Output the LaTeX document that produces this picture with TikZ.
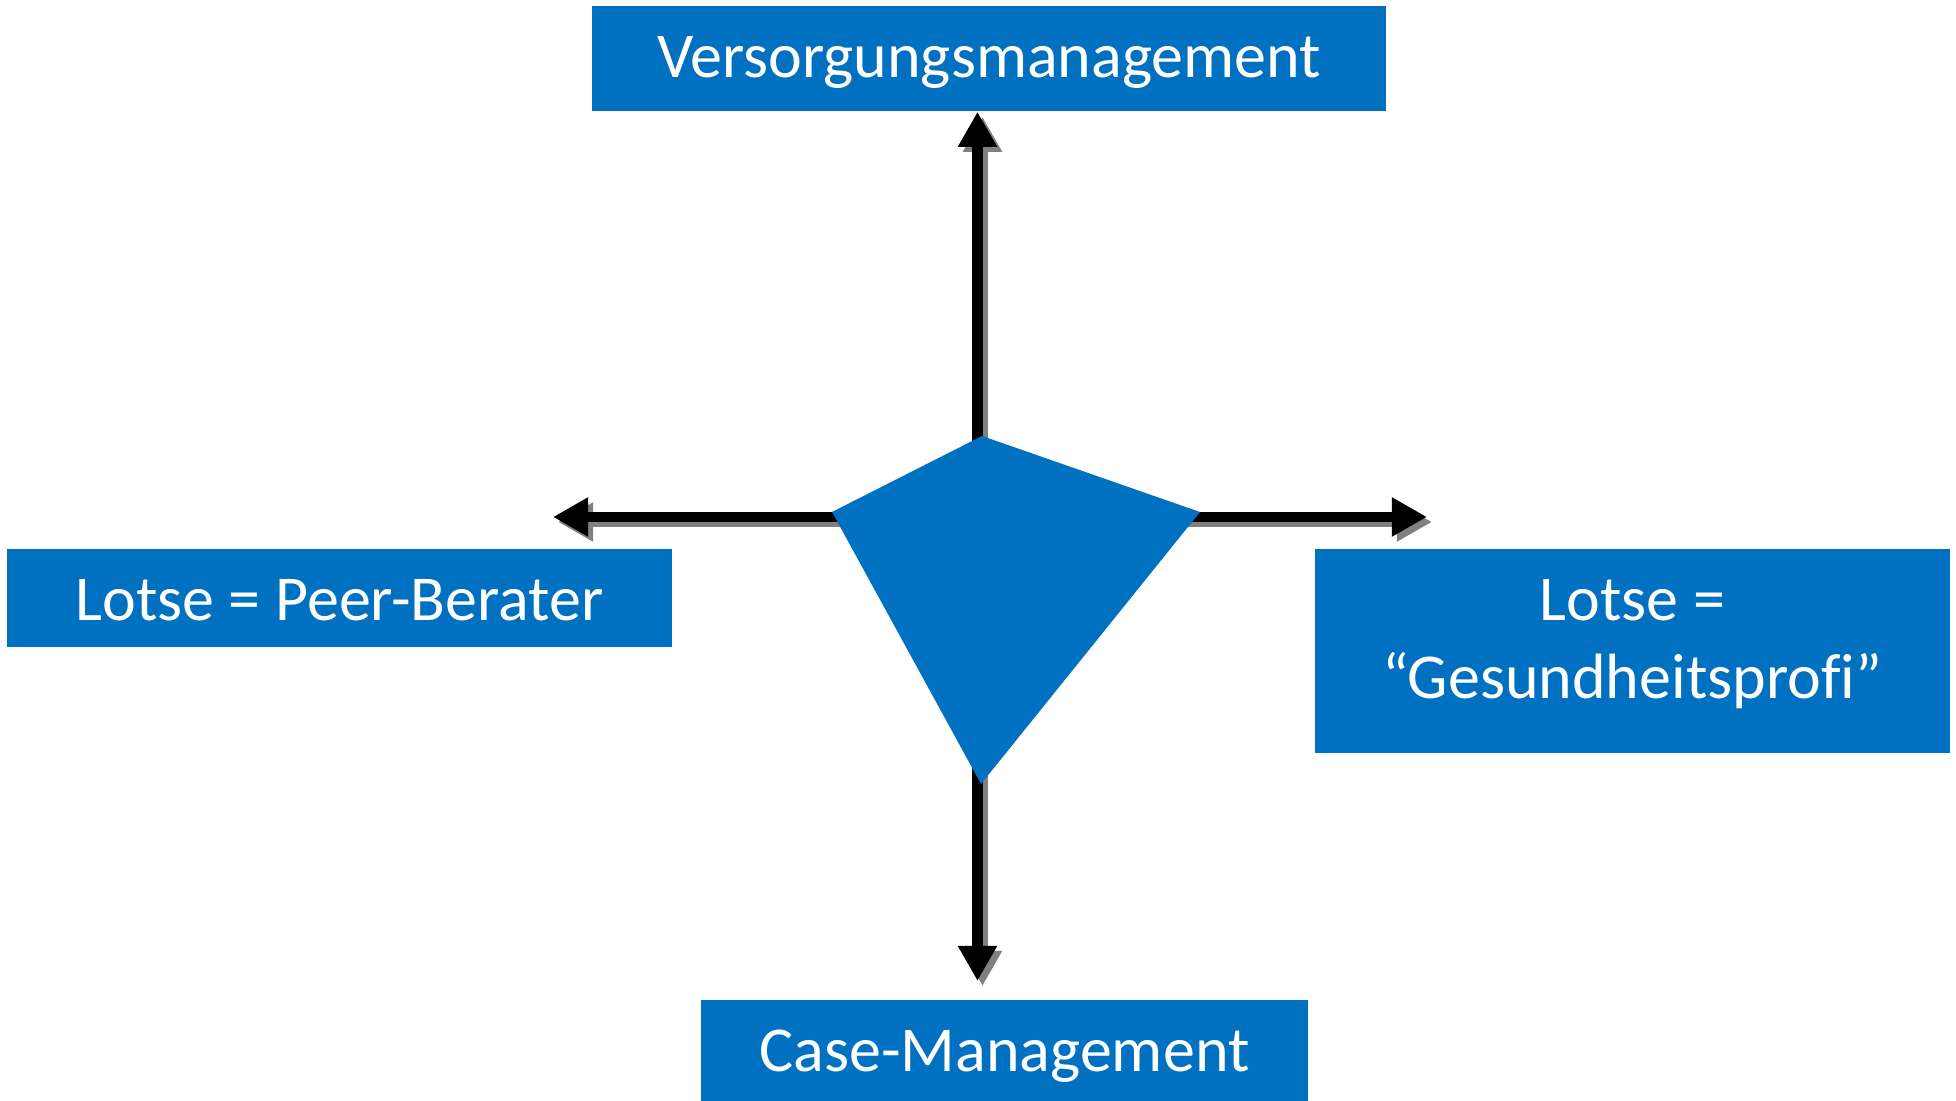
\documentclass[tikz,border=0pt]{standalone}
\usepackage{fontspec}
\setmainfont{Carlito}
\usetikzlibrary{arrows.meta}
\definecolor{boxblue}{HTML}{0070C0}
\definecolor{shadowgray}{HTML}{808080}
\begin{document}
\begin{tikzpicture}[x=0.01cm,y=-0.01cm,
  box/.style={fill=boxblue,text=white,inner sep=0pt,align=center,
    font=\fontsize{18.2pt}{22pt}\selectfont},
  boxtext/.style={box,fill=none},
  arr/.style={line width=3.1pt,-{Triangle[length=10pt,width=10.5pt]}},
  shadowarr/.style={arr,shadowgray}]
\useasboundingbox (0,0) rectangle (1956,1101);
\fill[white] (0,0) rectangle (1956,1101);
% boxes
\node[box,minimum width=7.94cm,minimum height=1.05cm,
  label={[boxtext,yshift=-0.04cm]center:Versorgungsmanagement}] (top) at (989,58.5) {};
\node[box,minimum width=6.65cm,minimum height=0.98cm,
  label={[boxtext,yshift=-0.02cm]center:Lotse = Peer-Berater}] (left) at (339.5,598) {};
\node[box,minimum width=6.35cm,minimum height=2.04cm,
  label={[boxtext,yshift=0.07cm]center:Lotse =\\“Gesundheitsprof\kern0pt i”}] (right) at (1632.5,651) {};
\node[box,minimum width=6.07cm,minimum height=1.01cm,
  label={[boxtext,yshift=-0.06cm]center:Case-Management}] (bottom) at (1004.5,1050.5) {};
% centre
\coordinate (c) at (977.5,517);
\coordinate (pt) at (982,436);
\coordinate (pr) at (1200,512);
\coordinate (pb) at (981,784);
\coordinate (pl) at (832,512);
\coordinate (lend) at (553,517);
\coordinate (rend) at (1427,517);
\coordinate (bend) at (977.5,981);
% shadows
\begin{scope}[transform canvas={xshift=0.05cm,yshift=-0.05cm}]
\draw[shadowarr] (c) -- (c |- top.south);
\draw[shadowarr] (c) -- (lend);
\draw[shadowarr] (c) -- (rend);
\draw[shadowarr] (c) -- (bend);
\end{scope}
% arrows
\draw[arr] (c) -- (c |- top.south);
\draw[arr] (c) -- (lend);
\draw[arr] (c) -- (rend);
\draw[arr] (c) -- (bend);
% kite
\fill[boxblue] (pt) -- (pr) -- (pb) -- (pl) -- cycle;
\end{tikzpicture}
\end{document}
